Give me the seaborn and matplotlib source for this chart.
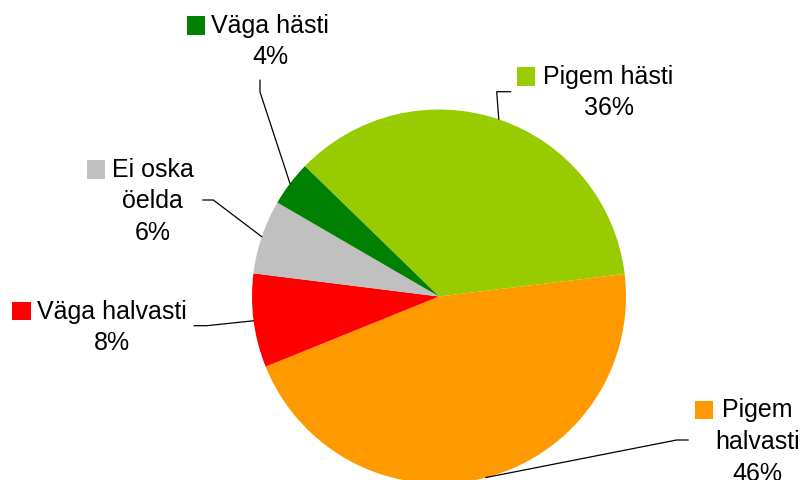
import numpy as np
import matplotlib
matplotlib.use("Agg")
import matplotlib.pyplot as plt
from matplotlib.patches import Rectangle
import seaborn as sns

# ---- data ----
categories = ["Pigem hästi", "Pigem halvasti", "Väga halvasti", "Ei oska öelda", "Väga hästi"]
values = [35.8, 45.8, 8.1, 6.4, 3.9]
colors = ["#99CC00", "#FF9900", "#FF0000", "#C0C0C0", "#008000"]
label_lines = [["Pigem hästi"], ["Pigem", "halvasti"], ["Väga halvasti"], ["Ei oska", "öelda"], ["Väga hästi"]]

# ---- layout (pixel coordinates in the 805x481 image) ----
W, H = 805, 481
CX, CY, R = 439, 297.5, 187.0
# first-line centre x, first-line centre y, line step, key box (x0, y0, x1, y1)
label_layout = [
    (608.5, 77, 31, (517, 68, 535, 87)),
    (757.5, 410, 32, (695, 402, 713, 420)),
    (112, 312, 31, (12, 303, 31, 321)),
    (152.5, 170, 31.5, (87, 161, 105, 180)),
    (270, 26, 31, (187, 17, 205, 36)),
]
# leader polyline label-side points (pixels)
leader_pts = [
    [(510.7, 92.7), (496.7, 92.7)],
    [(688.3, 441), (676.7, 441)],
    [(194, 326.7), (206.7, 326.7)],
    [(202.7, 201), (213.3, 201)],
    [(260, 81), (260, 93)],
]

def px(x, y):
    return (x - CX) / R, (CY - y) / R

sns.set_theme(style="white")
plt.rcParams["font.family"] = ["Liberation Sans", "DejaVu Sans"]

fig = plt.figure(figsize=(W / 100, H / 100), dpi=100)
ax = fig.add_axes([0, 0, 1, 1])
wedges, _ = ax.pie(values, colors=colors, startangle=135.8, counterclock=False,
                   radius=1.0, center=(0, 0),
                   wedgeprops=dict(linewidth=0, antialiased=True))
ax.set_aspect("auto")
x0, _ = px(0, 0)
x1, _ = px(W, 0)
_, y0 = px(0, H)
_, y1 = px(0, 0)
ax.set_xlim(x0, x1)
ax.set_ylim(y0, y1)
ax.axis("off")

total = sum(values)
for i, w in enumerate(wedges):
    cxp, cyp, step, key = label_layout[i]
    pct = f"{round(values[i] / total * 100)}%"
    lines = label_lines[i] + [pct]
    for j, t in enumerate(lines):
        xd, yd = px(cxp, cyp + j * step)
        ax.text(xd, yd, t, ha="center", va="center", fontsize=18, color="black")
    kx0, ky0 = px(key[0], key[3])
    kx1, ky1 = px(key[2], key[1])
    ax.add_patch(Rectangle((kx0, ky0), kx1 - kx0, ky1 - ky0, facecolor=colors[i],
                           edgecolor="none"))
    mid = np.deg2rad((w.theta1 + w.theta2) / 2)
    pts = [px(*p) for p in leader_pts[i]] + [(np.cos(mid) * 1.0, np.sin(mid) * 1.0)]
    xs, ys = zip(*pts)
    ax.plot(xs, ys, color="black", lw=0.9, solid_joinstyle="miter")

fig.savefig("out.png", dpi=100)
